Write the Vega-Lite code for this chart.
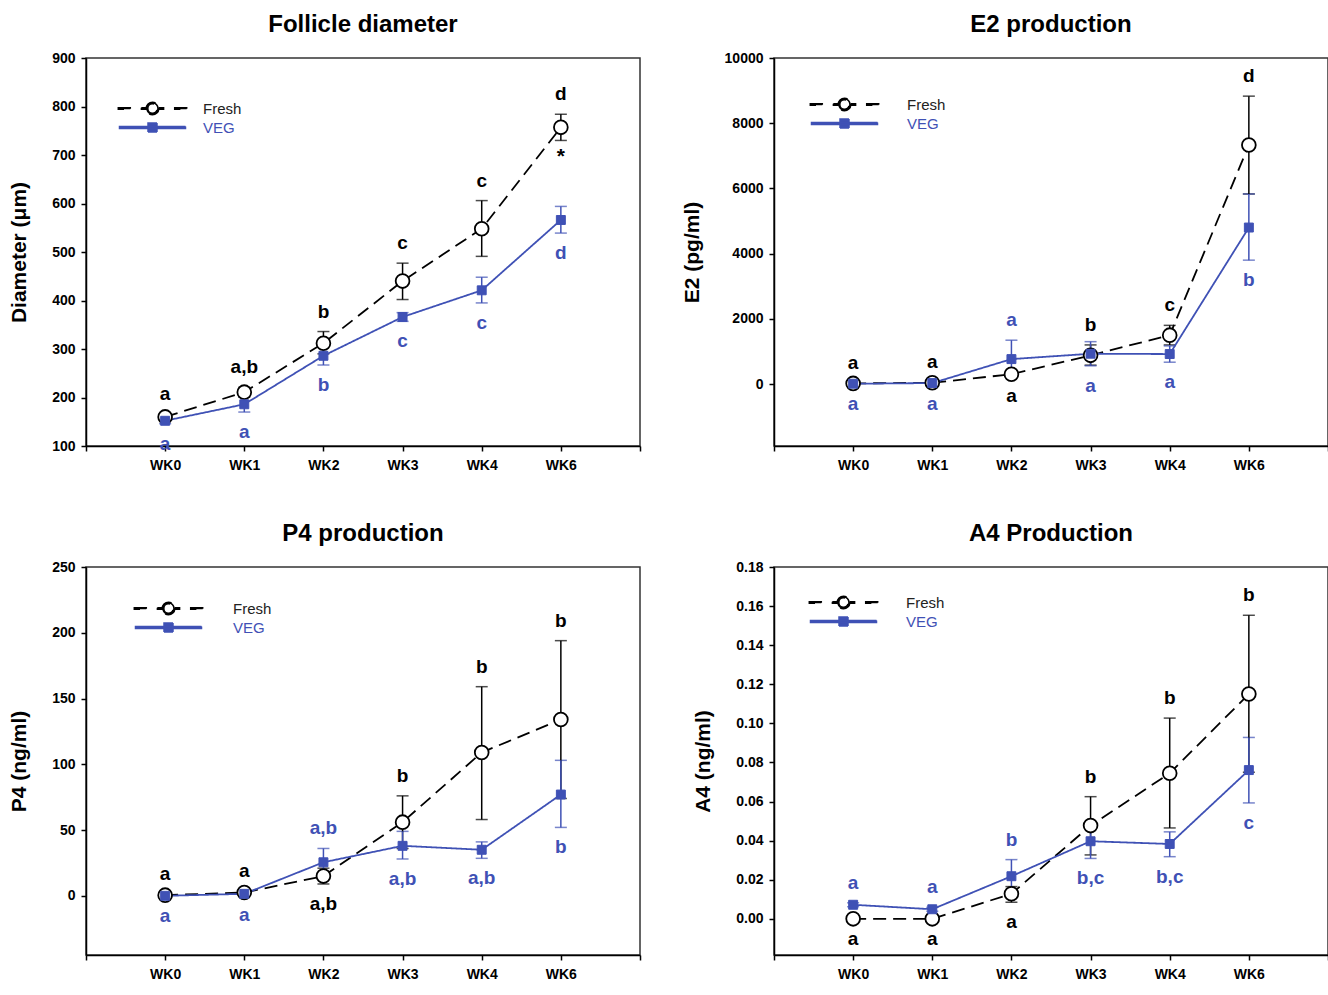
{
  "$schema": "https://vega.github.io/schema/vega-lite/v6.json",
  "background": "white",
  "padding": {"left": 7, "top": 12, "right": 0, "bottom": 0},
  "config": {
    "font": "Liberation Sans",
    "view": {"stroke": "#333333", "strokeWidth": 1.5},
    "axis": {
      "grid": false,
      "labelFont": "Liberation Sans",
      "labelFontWeight": "bold",
      "labelFontSize": 14,
      "labelColor": "black",
      "tickColor": "black",
      "tickWidth": 1.5,
      "tickSize": 5,
      "domainColor": "black",
      "domainWidth": 1.5,
      "titleFont": "Liberation Sans",
      "titleFontSize": 21,
      "titleFontWeight": "bold",
      "titleColor": "black"
    },
    "axisX": {"labelPadding": 7, "labelFlush": false},
    "axisY": {"labelPadding": 6, "titlePadding": 22},
    "title": {"font": "Liberation Sans", "fontSize": 24, "fontWeight": "bold", "color": "black", "anchor": "middle", "offset": 14},
    "legend": {
      "title": null,
      "padding": 0,
      "symbolSize": 144,
      "labelFont": "Liberation Sans",
      "labelFontSize": 15,
      "rowPadding": 2,
      "orient": "none"
    }
  },
  "resolve": {
    "scale": {"color": "independent", "strokeDash": "independent"},
    "legend": {"color": "independent"}
  },
  "datasets": {
    "pts": [
      {"p": 1, "wk": 0, "s": "Fresh", "m": 160, "lo": 155, "hi": 165, "lt": "a", "pos": "above"},
      {"p": 1, "wk": 1, "s": "Fresh", "m": 211, "lo": 201, "hi": 221, "lt": "a,b", "pos": "above"},
      {"p": 1, "wk": 2, "s": "Fresh", "m": 312, "lo": 290, "hi": 336, "lt": "b", "pos": "above"},
      {"p": 1, "wk": 3, "s": "Fresh", "m": 440, "lo": 402, "hi": 477, "lt": "c", "pos": "above"},
      {"p": 1, "wk": 4, "s": "Fresh", "m": 548, "lo": 491, "hi": 606, "lt": "c", "pos": "above"},
      {"p": 1, "wk": 5, "s": "Fresh", "m": 757, "lo": 730, "hi": 784, "lt": "d", "pos": "above", "star": "*"},
      {"p": 1, "wk": 0, "s": "VEG", "m": 152, "lo": 146, "hi": 158, "lt": "a", "pos": "below"},
      {"p": 1, "wk": 1, "s": "VEG", "m": 186, "lo": 170, "hi": 202, "lt": "a", "pos": "below"},
      {"p": 1, "wk": 2, "s": "VEG", "m": 286, "lo": 267, "hi": 305, "lt": "b", "pos": "below"},
      {"p": 1, "wk": 3, "s": "VEG", "m": 366, "lo": 357, "hi": 375, "lt": "c", "pos": "below"},
      {"p": 1, "wk": 4, "s": "VEG", "m": 421, "lo": 395, "hi": 448, "lt": "c", "pos": "below"},
      {"p": 1, "wk": 5, "s": "VEG", "m": 566, "lo": 539, "hi": 594, "lt": "d", "pos": "below"},

      {"p": 2, "wk": 0, "s": "Fresh", "m": 20, "lo": 0, "hi": 40, "lt": "a", "pos": "above"},
      {"p": 2, "wk": 1, "s": "Fresh", "m": 40, "lo": 10, "hi": 70, "lt": "a", "pos": "above"},
      {"p": 2, "wk": 2, "s": "Fresh", "m": 300, "lo": 240, "hi": 360, "lt": "a", "pos": "below"},
      {"p": 2, "wk": 3, "s": "Fresh", "m": 880, "lo": 580, "hi": 1200, "lt": "b", "pos": "above"},
      {"p": 2, "wk": 4, "s": "Fresh", "m": 1500, "lo": 1200, "hi": 1800, "lt": "c", "pos": "above"},
      {"p": 2, "wk": 5, "s": "Fresh", "m": 7330, "lo": 5830, "hi": 8830, "lt": "d", "pos": "above"},
      {"p": 2, "wk": 0, "s": "VEG", "m": 10, "lo": 0, "hi": 20, "lt": "a", "pos": "below"},
      {"p": 2, "wk": 1, "s": "VEG", "m": 30, "lo": 10, "hi": 50, "lt": "a", "pos": "below"},
      {"p": 2, "wk": 2, "s": "VEG", "m": 765, "lo": 185, "hi": 1345, "lt": "a", "pos": "above"},
      {"p": 2, "wk": 3, "s": "VEG", "m": 930, "lo": 560, "hi": 1300, "lt": "a", "pos": "below"},
      {"p": 2, "wk": 4, "s": "VEG", "m": 920, "lo": 670, "hi": 1170, "lt": "a", "pos": "below"},
      {"p": 2, "wk": 5, "s": "VEG", "m": 4800, "lo": 3800, "hi": 5830, "lt": "b", "pos": "below"},

      {"p": 3, "wk": 0, "s": "Fresh", "m": 0.5, "lo": 0, "hi": 1, "lt": "a", "pos": "above"},
      {"p": 3, "wk": 1, "s": "Fresh", "m": 2.5, "lo": 1, "hi": 4, "lt": "a", "pos": "above"},
      {"p": 3, "wk": 2, "s": "Fresh", "m": 15, "lo": 9, "hi": 21, "lt": "a,b", "pos": "below"},
      {"p": 3, "wk": 3, "s": "Fresh", "m": 56, "lo": 36, "hi": 76, "lt": "b", "pos": "above"},
      {"p": 3, "wk": 4, "s": "Fresh", "m": 109, "lo": 58, "hi": 159, "lt": "b", "pos": "above"},
      {"p": 3, "wk": 5, "s": "Fresh", "m": 134, "lo": 74, "hi": 194, "lt": "b", "pos": "above"},
      {"p": 3, "wk": 0, "s": "VEG", "m": 0, "lo": -0.5, "hi": 0.5, "lt": "a", "pos": "below"},
      {"p": 3, "wk": 1, "s": "VEG", "m": 1.5, "lo": 0.5, "hi": 2.5, "lt": "a", "pos": "below"},
      {"p": 3, "wk": 2, "s": "VEG", "m": 25.5, "lo": 15, "hi": 36, "lt": "a,b", "pos": "above"},
      {"p": 3, "wk": 3, "s": "VEG", "m": 38, "lo": 28, "hi": 49, "lt": "a,b", "pos": "below"},
      {"p": 3, "wk": 4, "s": "VEG", "m": 35, "lo": 28.5, "hi": 41, "lt": "a,b", "pos": "below"},
      {"p": 3, "wk": 5, "s": "VEG", "m": 77, "lo": 52, "hi": 103, "lt": "b", "pos": "below"},

      {"p": 4, "wk": 0, "s": "Fresh", "m": 0, "lo": 0, "hi": 0, "lt": "a", "pos": "below"},
      {"p": 4, "wk": 1, "s": "Fresh", "m": 0, "lo": 0, "hi": 0, "lt": "a", "pos": "below"},
      {"p": 4, "wk": 2, "s": "Fresh", "m": 0.0128, "lo": 0.0085, "hi": 0.0165, "lt": "a", "pos": "below"},
      {"p": 4, "wk": 3, "s": "Fresh", "m": 0.0477, "lo": 0.0327, "hi": 0.0625, "lt": "b", "pos": "above"},
      {"p": 4, "wk": 4, "s": "Fresh", "m": 0.0745, "lo": 0.0465, "hi": 0.1027, "lt": "b", "pos": "above"},
      {"p": 4, "wk": 5, "s": "Fresh", "m": 0.115, "lo": 0.075, "hi": 0.1553, "lt": "b", "pos": "above"},
      {"p": 4, "wk": 0, "s": "VEG", "m": 0.0072, "lo": 0.0062, "hi": 0.0082, "lt": "a", "pos": "above"},
      {"p": 4, "wk": 1, "s": "VEG", "m": 0.0049, "lo": 0.0039, "hi": 0.0059, "lt": "a", "pos": "above"},
      {"p": 4, "wk": 2, "s": "VEG", "m": 0.0218, "lo": 0.0133, "hi": 0.0303, "lt": "b", "pos": "above"},
      {"p": 4, "wk": 3, "s": "VEG", "m": 0.0397, "lo": 0.0309, "hi": 0.0485, "lt": "b,c", "pos": "below"},
      {"p": 4, "wk": 4, "s": "VEG", "m": 0.0383, "lo": 0.0318, "hi": 0.0445, "lt": "b,c", "pos": "below"},
      {"p": 4, "wk": 5, "s": "VEG", "m": 0.0761, "lo": 0.0593, "hi": 0.0928, "lt": "c", "pos": "below"}
    ]
  },
  "columns": 2,
  "align": "each",
  "spacing": {"row": 48, "column": 38},
  "concat": [
    {
      "title": "Follicle diameter",
      "width": 554, "height": 388,
      "data": {"name": "pts"},
      "transform": [{"filter": "datum.p === 1"}],
      "encoding": {
        "x": {"field": "wk", "type": "quantitative", "scale": {"domain": [-1, 6], "nice": false, "zero": false},
              "axis": {"values": [-1, 0, 1, 2, 3, 4, 5, 6], "labelExpr": "['','WK0','WK1','WK2','WK3','WK4','WK6',''][datum.value+1]", "title": null}},
        "y": {"field": "m", "type": "quantitative", "title": "Diameter (μm)", "scale": {"domain": [100, 900], "nice": false, "zero": false}, "axis": {"values": [100, 200, 300, 400, 500, 600, 700, 800, 900]}}
      },
      "layer": [
        {"mark": {"type": "errorbar", "thickness": 1.5, "ticks": {"size": 12, "thickness": 1.5}},
         "encoding": {
           "y": {"field": "lo", "type": "quantitative", "title": "Diameter (μm)"},
           "y2": {"field": "hi"},
           "color": {"field": "s", "type": "nominal", "scale": {"domain": ["Fresh", "VEG"], "range": ["black", "#3f51b5"]}}}},
        {"mark": {"type": "line", "strokeWidth": 1.8},
         "encoding": {
           "color": {"field": "s", "type": "nominal", "scale": {"domain": ["Fresh", "VEG"], "range": ["black", "#3f51b5"]},
             "legend": {"legendX": 59, "legendY": 43, "labelOffset": 43,
               "encode": {
                 "symbols": {"update": {
                   "shape": {"signal": "datum.value === 'Fresh' ? 'M-5.7,-0.14H-3.7V0.14H-5.7ZM-1.85,-0.14H-1.05V0.14H-1.85ZM1.05,-0.14H1.85V0.14H1.05ZM3.7,-0.14H5.7V0.14H3.7ZM-1.05,0A1.05,1.05 0 1,1 1.05,0A1.05,1.05 0 1,1 -1.05,0ZM-0.78,0A0.78,0.78 0 1,0 0.78,0A0.78,0.78 0 1,0 -0.78,0Z' : 'M-5.5,-0.15H5.5V0.15H-5.5ZM-0.75,-0.75H0.75V0.75H-0.75Z'"},
                   "opacity": {"value": 1}}},
                 "labels": {"update": {"fill": {"signal": "datum.value === 'Fresh' ? '#222222' : '#3f51b5'"}}}}}},
           "strokeDash": {"field": "s", "type": "nominal", "scale": {"domain": ["Fresh", "VEG"], "range": [[13, 7], [1, 0]]}, "legend": null}}},
        {"transform": [{"filter": "datum.s === 'Fresh'"}],
         "mark": {"type": "point", "shape": "circle", "filled": true, "fill": "white", "stroke": "black", "strokeWidth": 1.8, "size": 190, "opacity": 1}},
        {"transform": [{"filter": "datum.s === 'VEG'"}],
         "mark": {"type": "point", "shape": "square", "filled": true, "fill": "#3f51b5", "stroke": "#3f51b5", "strokeWidth": 1, "size": 80, "opacity": 1}},
        {"transform": [{"filter": "datum.pos === 'above'"}],
         "mark": {"type": "text", "dy": -20, "fontSize": 19, "fontWeight": "bold", "baseline": "middle"},
         "encoding": {
           "y": {"field": "hi", "type": "quantitative", "title": "Diameter (μm)"},
           "text": {"field": "lt"},
           "color": {"field": "s", "type": "nominal", "scale": {"domain": ["Fresh", "VEG"], "range": ["black", "#3f51b5"]}}}},
        {"transform": [{"filter": "datum.pos === 'below'"}],
         "mark": {"type": "text", "dy": 20, "fontSize": 19, "fontWeight": "bold", "baseline": "middle"},
         "encoding": {
           "y": {"field": "lo", "type": "quantitative", "title": "Diameter (μm)"},
           "text": {"field": "lt"},
           "color": {"field": "s", "type": "nominal", "scale": {"domain": ["Fresh", "VEG"], "range": ["black", "#3f51b5"]}}}},
        {"transform": [{"filter": "isValid(datum.star)"}],
         "mark": {"type": "text", "dy": 17, "fontSize": 21, "fontWeight": "bold", "baseline": "middle", "color": "black"},
         "encoding": {
           "y": {"field": "lo", "type": "quantitative", "title": "Diameter (μm)"},
           "text": {"field": "star"}}}
      ]
    },
    {
      "title": "E2 production",
      "width": 554, "height": 388,
      "data": {"name": "pts"},
      "transform": [{"filter": "datum.p === 2"}],
      "encoding": {
        "x": {"field": "wk", "type": "quantitative", "scale": {"domain": [-1, 6], "nice": false, "zero": false},
              "axis": {"values": [-1, 0, 1, 2, 3, 4, 5, 6], "labelExpr": "['','WK0','WK1','WK2','WK3','WK4','WK6',''][datum.value+1]", "title": null}},
        "y": {"field": "m", "type": "quantitative", "title": "E2 (pg/ml)", "scale": {"domain": [-1900, 10000], "nice": false, "zero": false}, "axis": {"values": [0, 2000, 4000, 6000, 8000, 10000], "format": "d"}}
      },
      "layer": [
        {"mark": {"type": "errorbar", "thickness": 1.5, "ticks": {"size": 12, "thickness": 1.5}},
         "encoding": {
           "y": {"field": "lo", "type": "quantitative", "title": "E2 (pg/ml)"},
           "y2": {"field": "hi"},
           "color": {"field": "s", "type": "nominal", "scale": {"domain": ["Fresh", "VEG"], "range": ["black", "#3f51b5"]}}}},
        {"mark": {"type": "line", "strokeWidth": 1.8},
         "encoding": {
           "color": {"field": "s", "type": "nominal", "scale": {"domain": ["Fresh", "VEG"], "range": ["black", "#3f51b5"]},
             "legend": {"legendX": 63, "legendY": 39, "labelOffset": 55,
               "encode": {
                 "symbols": {"update": {
                   "shape": {"signal": "datum.value === 'Fresh' ? 'M-5.7,-0.14H-3.7V0.14H-5.7ZM-1.85,-0.14H-1.05V0.14H-1.85ZM1.05,-0.14H1.85V0.14H1.05ZM3.7,-0.14H5.7V0.14H3.7ZM-1.05,0A1.05,1.05 0 1,1 1.05,0A1.05,1.05 0 1,1 -1.05,0ZM-0.78,0A0.78,0.78 0 1,0 0.78,0A0.78,0.78 0 1,0 -0.78,0Z' : 'M-5.5,-0.15H5.5V0.15H-5.5ZM-0.75,-0.75H0.75V0.75H-0.75Z'"},
                   "opacity": {"value": 1}}},
                 "labels": {"update": {"fill": {"signal": "datum.value === 'Fresh' ? '#222222' : '#3f51b5'"}}}}}},
           "strokeDash": {"field": "s", "type": "nominal", "scale": {"domain": ["Fresh", "VEG"], "range": [[13, 7], [1, 0]]}, "legend": null}}},
        {"transform": [{"filter": "datum.s === 'Fresh'"}],
         "mark": {"type": "point", "shape": "circle", "filled": true, "fill": "white", "stroke": "black", "strokeWidth": 1.8, "size": 190, "opacity": 1}},
        {"transform": [{"filter": "datum.s === 'VEG'"}],
         "mark": {"type": "point", "shape": "square", "filled": true, "fill": "#3f51b5", "stroke": "#3f51b5", "strokeWidth": 1, "size": 80, "opacity": 1}},
        {"transform": [{"filter": "datum.pos === 'above'"}],
         "mark": {"type": "text", "dy": -20, "fontSize": 19, "fontWeight": "bold", "baseline": "middle"},
         "encoding": {
           "y": {"field": "hi", "type": "quantitative", "title": "E2 (pg/ml)"},
           "text": {"field": "lt"},
           "color": {"field": "s", "type": "nominal", "scale": {"domain": ["Fresh", "VEG"], "range": ["black", "#3f51b5"]}}}},
        {"transform": [{"filter": "datum.pos === 'below'"}],
         "mark": {"type": "text", "dy": 20, "fontSize": 19, "fontWeight": "bold", "baseline": "middle"},
         "encoding": {
           "y": {"field": "lo", "type": "quantitative", "title": "E2 (pg/ml)"},
           "text": {"field": "lt"},
           "color": {"field": "s", "type": "nominal", "scale": {"domain": ["Fresh", "VEG"], "range": ["black", "#3f51b5"]}}}}
      ]
    },
    {
      "title": "P4 production",
      "width": 554, "height": 388,
      "data": {"name": "pts"},
      "transform": [{"filter": "datum.p === 3"}],
      "encoding": {
        "x": {"field": "wk", "type": "quantitative", "scale": {"domain": [-1, 6], "nice": false, "zero": false},
              "axis": {"values": [-1, 0, 1, 2, 3, 4, 5, 6], "labelExpr": "['','WK0','WK1','WK2','WK3','WK4','WK6',''][datum.value+1]", "title": null}},
        "y": {"field": "m", "type": "quantitative", "title": "P4 (ng/ml)", "scale": {"domain": [-45, 250], "nice": false, "zero": false}, "axis": {"values": [0, 50, 100, 150, 200, 250]}}
      },
      "layer": [
        {"mark": {"type": "errorbar", "thickness": 1.5, "ticks": {"size": 12, "thickness": 1.5}},
         "encoding": {
           "y": {"field": "lo", "type": "quantitative", "title": "P4 (ng/ml)"},
           "y2": {"field": "hi"},
           "color": {"field": "s", "type": "nominal", "scale": {"domain": ["Fresh", "VEG"], "range": ["black", "#3f51b5"]}}}},
        {"mark": {"type": "line", "strokeWidth": 1.8},
         "encoding": {
           "color": {"field": "s", "type": "nominal", "scale": {"domain": ["Fresh", "VEG"], "range": ["black", "#3f51b5"]},
             "legend": {"legendX": 75, "legendY": 34, "labelOffset": 57,
               "encode": {
                 "symbols": {"update": {
                   "shape": {"signal": "datum.value === 'Fresh' ? 'M-5.7,-0.14H-3.7V0.14H-5.7ZM-1.85,-0.14H-1.05V0.14H-1.85ZM1.05,-0.14H1.85V0.14H1.05ZM3.7,-0.14H5.7V0.14H3.7ZM-1.05,0A1.05,1.05 0 1,1 1.05,0A1.05,1.05 0 1,1 -1.05,0ZM-0.78,0A0.78,0.78 0 1,0 0.78,0A0.78,0.78 0 1,0 -0.78,0Z' : 'M-5.5,-0.15H5.5V0.15H-5.5ZM-0.75,-0.75H0.75V0.75H-0.75Z'"},
                   "opacity": {"value": 1}}},
                 "labels": {"update": {"fill": {"signal": "datum.value === 'Fresh' ? '#222222' : '#3f51b5'"}}}}}},
           "strokeDash": {"field": "s", "type": "nominal", "scale": {"domain": ["Fresh", "VEG"], "range": [[13, 7], [1, 0]]}, "legend": null}}},
        {"transform": [{"filter": "datum.s === 'Fresh'"}],
         "mark": {"type": "point", "shape": "circle", "filled": true, "fill": "white", "stroke": "black", "strokeWidth": 1.8, "size": 190, "opacity": 1}},
        {"transform": [{"filter": "datum.s === 'VEG'"}],
         "mark": {"type": "point", "shape": "square", "filled": true, "fill": "#3f51b5", "stroke": "#3f51b5", "strokeWidth": 1, "size": 80, "opacity": 1}},
        {"transform": [{"filter": "datum.pos === 'above'"}],
         "mark": {"type": "text", "dy": -20, "fontSize": 19, "fontWeight": "bold", "baseline": "middle"},
         "encoding": {
           "y": {"field": "hi", "type": "quantitative", "title": "P4 (ng/ml)"},
           "text": {"field": "lt"},
           "color": {"field": "s", "type": "nominal", "scale": {"domain": ["Fresh", "VEG"], "range": ["black", "#3f51b5"]}}}},
        {"transform": [{"filter": "datum.pos === 'below'"}],
         "mark": {"type": "text", "dy": 20, "fontSize": 19, "fontWeight": "bold", "baseline": "middle"},
         "encoding": {
           "y": {"field": "lo", "type": "quantitative", "title": "P4 (ng/ml)"},
           "text": {"field": "lt"},
           "color": {"field": "s", "type": "nominal", "scale": {"domain": ["Fresh", "VEG"], "range": ["black", "#3f51b5"]}}}}
      ]
    },
    {
      "title": "A4 Production",
      "width": 554, "height": 388,
      "data": {"name": "pts"},
      "transform": [{"filter": "datum.p === 4"}],
      "encoding": {
        "x": {"field": "wk", "type": "quantitative", "scale": {"domain": [-1, 6], "nice": false, "zero": false},
              "axis": {"values": [-1, 0, 1, 2, 3, 4, 5, 6], "labelExpr": "['','WK0','WK1','WK2','WK3','WK4','WK6',''][datum.value+1]", "title": null}},
        "y": {"field": "m", "type": "quantitative", "title": "A4 (ng/ml)", "scale": {"domain": [-0.0185, 0.18], "nice": false, "zero": false}, "axis": {"values": [0, 0.02, 0.04, 0.06, 0.08, 0.1, 0.12, 0.14, 0.16, 0.18], "format": ".2f"}}
      },
      "layer": [
        {"mark": {"type": "errorbar", "thickness": 1.5, "ticks": {"size": 12, "thickness": 1.5}},
         "encoding": {
           "y": {"field": "lo", "type": "quantitative", "title": "A4 (ng/ml)"},
           "y2": {"field": "hi"},
           "color": {"field": "s", "type": "nominal", "scale": {"domain": ["Fresh", "VEG"], "range": ["black", "#3f51b5"]}}}},
        {"mark": {"type": "line", "strokeWidth": 1.8},
         "encoding": {
           "color": {"field": "s", "type": "nominal", "scale": {"domain": ["Fresh", "VEG"], "range": ["black", "#3f51b5"]},
             "legend": {"legendX": 62, "legendY": 28, "labelOffset": 55,
               "encode": {
                 "symbols": {"update": {
                   "shape": {"signal": "datum.value === 'Fresh' ? 'M-5.7,-0.14H-3.7V0.14H-5.7ZM-1.85,-0.14H-1.05V0.14H-1.85ZM1.05,-0.14H1.85V0.14H1.05ZM3.7,-0.14H5.7V0.14H3.7ZM-1.05,0A1.05,1.05 0 1,1 1.05,0A1.05,1.05 0 1,1 -1.05,0ZM-0.78,0A0.78,0.78 0 1,0 0.78,0A0.78,0.78 0 1,0 -0.78,0Z' : 'M-5.5,-0.15H5.5V0.15H-5.5ZM-0.75,-0.75H0.75V0.75H-0.75Z'"},
                   "opacity": {"value": 1}}},
                 "labels": {"update": {"fill": {"signal": "datum.value === 'Fresh' ? '#222222' : '#3f51b5'"}}}}}},
           "strokeDash": {"field": "s", "type": "nominal", "scale": {"domain": ["Fresh", "VEG"], "range": [[13, 7], [1, 0]]}, "legend": null}}},
        {"transform": [{"filter": "datum.s === 'Fresh'"}],
         "mark": {"type": "point", "shape": "circle", "filled": true, "fill": "white", "stroke": "black", "strokeWidth": 1.8, "size": 190, "opacity": 1}},
        {"transform": [{"filter": "datum.s === 'VEG'"}],
         "mark": {"type": "point", "shape": "square", "filled": true, "fill": "#3f51b5", "stroke": "#3f51b5", "strokeWidth": 1, "size": 80, "opacity": 1}},
        {"transform": [{"filter": "datum.pos === 'above'"}],
         "mark": {"type": "text", "dy": -20, "fontSize": 19, "fontWeight": "bold", "baseline": "middle"},
         "encoding": {
           "y": {"field": "hi", "type": "quantitative", "title": "A4 (ng/ml)"},
           "text": {"field": "lt"},
           "color": {"field": "s", "type": "nominal", "scale": {"domain": ["Fresh", "VEG"], "range": ["black", "#3f51b5"]}}}},
        {"transform": [{"filter": "datum.pos === 'below'"}],
         "mark": {"type": "text", "dy": 20, "fontSize": 19, "fontWeight": "bold", "baseline": "middle"},
         "encoding": {
           "y": {"field": "lo", "type": "quantitative", "title": "A4 (ng/ml)"},
           "text": {"field": "lt"},
           "color": {"field": "s", "type": "nominal", "scale": {"domain": ["Fresh", "VEG"], "range": ["black", "#3f51b5"]}}}}
      ]
    }
  ]
}
